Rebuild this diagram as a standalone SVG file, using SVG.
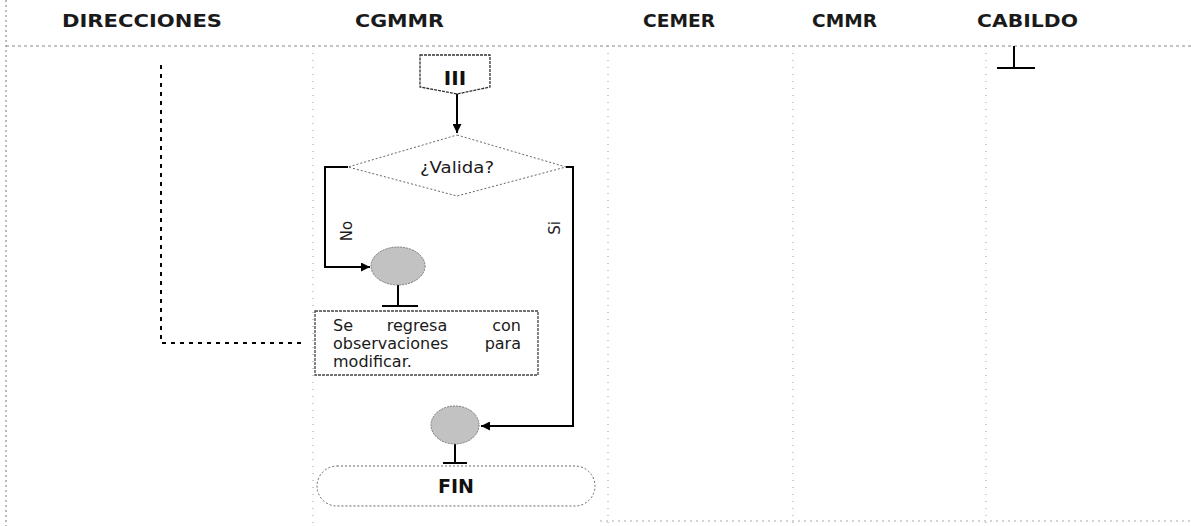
<svg xmlns="http://www.w3.org/2000/svg" width="1191" height="526" viewBox="0 0 1191 526">
<defs>
<style>
.hdr{font-family:"DejaVu Sans","Liberation Sans",sans-serif;font-weight:bold;font-size:18px;fill:#1a1a1a}
.lbl{font-family:"DejaVu Sans","Liberation Sans",sans-serif;font-size:15px;fill:#1a1a1a}
.body{font-family:"DejaVu Sans","Liberation Sans",sans-serif;font-size:16px;fill:#1a1a1a}
.bold{font-family:"DejaVu Sans","Liberation Sans",sans-serif;font-weight:bold;fill:#111}
.lane{stroke:#9a9a9a;stroke-width:1;stroke-dasharray:1 6;fill:none}
.conn{stroke:#000;stroke-width:2;fill:none}
.dash{stroke:#000;stroke-width:2;fill:none;stroke-dasharray:4 5}
.dotted{stroke:#666;stroke-width:1;stroke-dasharray:2 2;fill:#fff}
.circ{fill:#c2c2c2;stroke:#777;stroke-width:1;stroke-dasharray:2 1}
</style>
<marker id="arr" viewBox="0 0 10 10" refX="10" refY="5" markerWidth="10" markerHeight="9" markerUnits="userSpaceOnUse" orient="auto">
<path d="M0 0 L10 5 L0 10 Z" fill="#000"/>
</marker>
</defs>
<rect width="1191" height="526" fill="#fff"/>
<g id="lanes">
<line class="lane" x1="6" y1="0" x2="6" y2="526" style="stroke:#777;stroke-dasharray:2 3"/>
<line class="lane" x1="6" y1="46" x2="1191" y2="46" style="stroke:#888;stroke-dasharray:3 3"/>
<line class="lane" x1="313" y1="46" x2="313" y2="526"/>
<line class="lane" x1="608" y1="46" x2="608" y2="526"/>
<line class="lane" x1="793" y1="46" x2="793" y2="526"/>
<line class="lane" x1="986" y1="46" x2="986" y2="526"/>
<line class="lane" x1="600" y1="521" x2="1191" y2="521" style="stroke:#aaa;stroke-dasharray:2 4"/>
<text class="hdr" x="62" y="27" textLength="160" lengthAdjust="spacingAndGlyphs">DIRECCIONES</text>
<text class="hdr" x="355" y="27" textLength="89" lengthAdjust="spacingAndGlyphs">CGMMR</text>
<text class="hdr" x="643" y="27" textLength="72" lengthAdjust="spacingAndGlyphs">CEMER</text>
<text class="hdr" x="812" y="27" textLength="65" lengthAdjust="spacingAndGlyphs">CMMR</text>
<text class="hdr" x="977" y="27" textLength="101" lengthAdjust="spacingAndGlyphs">CABILDO</text>
</g>
<g id="connectors">
<path class="conn" d="M457 93 V133" marker-end="url(#arr)"/>
<path class="conn" d="M348 167 H325 V267 H370" marker-end="url(#arr)"/>
<path class="conn" d="M566 167 H573 V426 H481" marker-end="url(#arr)"/>
<path class="dash" d="M161 65 V343 H302"/>
<path class="conn" d="M398 285 V306 M382 306 H418"/>
<path class="conn" d="M455 444 V463 M443 463 H467"/>
<path class="conn" d="M1014 46 V68 M997 68 H1035"/>
<text class="lbl" transform="translate(352 231) rotate(-90)" text-anchor="middle" font-size="13">No</text>
<text class="lbl" transform="translate(560 228) rotate(-90)" text-anchor="middle" font-size="13">Si</text>
</g>
<g id="offpage-III">
<path d="M420 55 H490 V87 L457 94 L420 87 Z" fill="#fff" stroke="#333" stroke-width="1.3" stroke-dasharray="3 1"/>
<text class="bold" x="455" y="85" font-size="20" text-anchor="middle">III</text>
</g>
<g id="decision-valida">
<polygon class="dotted" points="457,135 566,167 457,196 348,167"/>
<text class="lbl" x="457" y="173" text-anchor="middle" textLength="74" lengthAdjust="spacingAndGlyphs">¿Valida?</text>
</g>
<g id="connector-1">
<ellipse class="circ" cx="398" cy="266" rx="27" ry="19"/>
</g>
<g id="process-regresa">
<rect x="315" y="311" width="223" height="64" fill="#fff" stroke="#444" stroke-width="1.3" stroke-dasharray="3 1"/>
<text class="body" x="333" y="331">Se</text>
<text class="body" x="417" y="331" text-anchor="middle">regresa</text>
<text class="body" x="521" y="331" text-anchor="end">con</text>
<text class="body" x="333" y="349">observaciones</text>
<text class="body" x="521" y="349" text-anchor="end">para</text>
<text class="body" x="333" y="367">modificar.</text>
</g>
<g id="connector-2">
<ellipse class="circ" cx="455" cy="425" rx="24" ry="19"/>
</g>
<g id="terminator-fin">
<rect class="dotted" x="317" y="466" width="278" height="40" rx="20" ry="20"/>
<text class="bold" x="456" y="493" font-size="19" text-anchor="middle">FIN</text>
</g>
</svg>
